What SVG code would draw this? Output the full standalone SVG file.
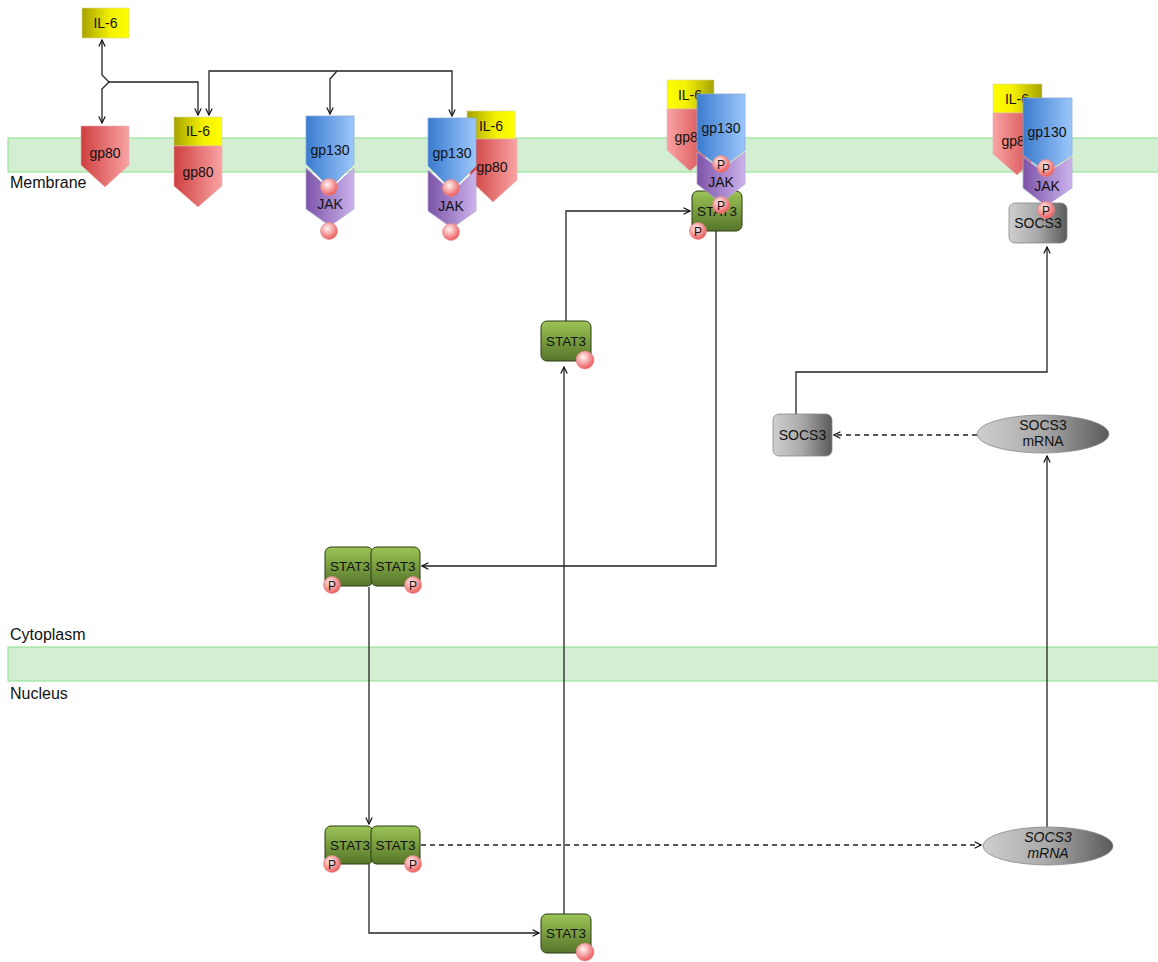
<svg xmlns="http://www.w3.org/2000/svg" width="1158" height="962" viewBox="0 0 1158 962">
<defs>
  <linearGradient id="gYel" x1="0" y1="0" x2="1" y2="0"><stop offset="0" stop-color="#a6a200"/><stop offset="0.6" stop-color="#f4f000"/><stop offset="1" stop-color="#ffff00"/></linearGradient>
  <linearGradient id="gYelR" x1="1" y1="0" x2="0" y2="0"><stop offset="0" stop-color="#a6a200"/><stop offset="0.6" stop-color="#f4f000"/><stop offset="1" stop-color="#ffff00"/></linearGradient>
  <linearGradient id="gRed" x1="0" y1="0" x2="1" y2="0"><stop offset="0" stop-color="#cf3f3f"/><stop offset="1" stop-color="#f9a3a3"/></linearGradient>
  <linearGradient id="gRedR" x1="1" y1="0" x2="0" y2="0"><stop offset="0" stop-color="#cf3f3f"/><stop offset="1" stop-color="#f9a3a3"/></linearGradient>
  <linearGradient id="gBlue" x1="0" y1="0" x2="1" y2="0"><stop offset="0" stop-color="#3a7bcf"/><stop offset="1" stop-color="#9cc7fb"/></linearGradient>
  <linearGradient id="gPur" x1="0" y1="0" x2="1" y2="0"><stop offset="0" stop-color="#7c53a8"/><stop offset="1" stop-color="#cbb3ec"/></linearGradient>
  <linearGradient id="gGreen" x1="0" y1="0" x2="0" y2="1"><stop offset="0" stop-color="#9cc456"/><stop offset="1" stop-color="#56752a"/></linearGradient>
  <linearGradient id="gGray" x1="0" y1="0" x2="1" y2="0"><stop offset="0" stop-color="#cfcfcf"/><stop offset="0.5" stop-color="#a8a8a8"/><stop offset="1" stop-color="#5a5a5a"/></linearGradient>
  <radialGradient id="gP" cx="0.4" cy="0.35" r="0.65"><stop offset="0" stop-color="#fff4f4"/><stop offset="1" stop-color="#ee5a5a"/></radialGradient>
  <marker id="arr" viewBox="0 0 10 10" refX="9" refY="5" markerWidth="8" markerHeight="8" orient="auto" markerUnits="userSpaceOnUse">
    <path d="M1,1 L9,5 L1,9" fill="none" stroke="#111" stroke-width="1.5"/>
  </marker>
  <marker id="arrS" viewBox="0 0 10 10" refX="9" refY="5" markerWidth="8" markerHeight="8" orient="auto-start-reverse" markerUnits="userSpaceOnUse">
    <path d="M1,1 L9,5 L1,9" fill="none" stroke="#111" stroke-width="1.5"/>
  </marker>
</defs>
<style>
  text { font-family: "Liberation Sans", Arial, sans-serif; fill: #111; }
  .lbl { font-size: 14px; text-anchor: middle; }
  .st { font-size: 13.5px; text-anchor: middle; }
  .comp { font-size: 16px; }
  .band { fill: #d3eed3; stroke: #86e286; stroke-width: 1; }
  .il6 { stroke: #d8d8a0; stroke-width: 0.6; }
  .gp80 { stroke: #e8b0b0; stroke-width: 0.6; }
  .gp130 { fill: url(#gBlue); stroke: #8aa8d8; stroke-width: 0.8; }
  .jak { fill: url(#gPur); stroke: #b8a8d0; stroke-width: 0.8; }
  .stat { fill: url(#gGreen); stroke: #2b3a12; stroke-width: 1; }
  .socs { fill: url(#gGray); stroke: #888; stroke-width: 0.8; }
  .mrna { fill: url(#gGray); stroke: #888; stroke-width: 0.8; }
  .p { fill: url(#gP); stroke: #d88; stroke-width: 0.6; }
  .pt { font-size: 12px; text-anchor: middle; }
  .c { fill: none; stroke: #222; stroke-width: 1.3; }
  .d { fill: none; stroke: #222; stroke-width: 1.3; stroke-dasharray: 5,4; }
</style>

<g id="compartments">
  <rect class="band" x="8" y="138" width="1152" height="34"/>
  <rect class="band" x="8" y="647" width="1152" height="34"/>
  <text class="comp" x="10" y="188">Membrane</text>
  <text class="comp" x="10" y="640">Cytoplasm</text>
  <text class="comp" x="10" y="699">Nucleus</text>
</g>

<g id="connectors">
  <path class="c" d="M102,40 V75 L109,82 L102,89 V123" marker-start="url(#arrS)" marker-end="url(#arrS)"/>
  <path class="c" d="M109,82 H198 V115" marker-end="url(#arr)"/>
  <path class="c" d="M337,71 H209 V115" marker-end="url(#arr)"/>
  <path class="c" d="M337,71 H452 V116" marker-end="url(#arr)"/>
  <path class="c" d="M337,71 L330,79 V114" marker-end="url(#arr)"/>
  <path class="c" d="M566,321 V211 H690" marker-end="url(#arr)"/>
  <path class="c" d="M564,914 V367" marker-end="url(#arr)"/>
  <path class="c" d="M716,231 V566 H422" marker-end="url(#arr)"/>
  <path class="c" d="M369,587 V824" marker-end="url(#arr)"/>
  <path class="c" d="M369,864 V933 H539" marker-end="url(#arr)"/>
  <path class="d" d="M421,845 H981" marker-end="url(#arr)"/>
  <path class="c" d="M1047,827 V456" marker-end="url(#arr)"/>
  <path class="d" d="M977,435 H834" marker-end="url(#arr)"/>
  <path class="c" d="M796,414 V372 H1047 V247" marker-end="url(#arr)"/>
</g>

<g id="il6-free">
  <rect class="il6" x="82" y="8" width="47" height="30" fill="url(#gYel)"/>
  <text class="lbl" x="105.5" y="28">IL-6</text>
</g>

<g id="gp80-free">
  <path class="gp80" d="M81,126 H129 V165 L105,187 L81,165 Z" fill="url(#gRed)"/>
  <text class="lbl" x="105" y="158">gp80</text>
</g>

<g id="il6-gp80">
  <rect class="il6" x="174" y="117" width="48" height="29" fill="url(#gYel)"/>
  <text class="lbl" x="198" y="136">IL-6</text>
  <path class="gp80" d="M174,146 H222 V186 L198,207 L174,186 Z" fill="url(#gRed)"/>
  <text class="lbl" x="198" y="177">gp80</text>
</g>

<g id="gp130-jak">
  <path class="jak" d="M306,168 L330,190 L354,168 V209 L330,226 L306,209 Z"/>
  <path class="gp130" d="M306,116 H354 V164 L330,188 L306,164 Z"/>
  <text class="lbl" x="330" y="155">gp130</text>
  <text class="lbl" x="330" y="209">JAK</text>
  <circle class="p" cx="329" cy="187" r="8.5"/>
  <circle class="p" cx="329" cy="231" r="8.5"/>
</g>

<g id="complex-1">
  <rect class="il6" x="467" y="111" width="48" height="28" fill="url(#gYel)"/>
  <text class="lbl" x="491" y="131">IL-6</text>
  <path class="gp80" d="M470,139 H517 V180 L493,202 L470,180 Z" fill="url(#gRed)"/>
  <text class="lbl" x="492" y="172">gp80</text>
  <path class="jak" d="M428,170 L452,192 L476,170 V211 L452,228 L428,211 Z"/>
  <path class="gp130" d="M428,118 H476 V166 L452,190 L428,166 Z"/>
  <text class="lbl" x="452" y="158">gp130</text>
  <text class="lbl" x="451" y="211">JAK</text>
  <circle class="p" cx="451" cy="188" r="8.5"/>
  <circle class="p" cx="451" cy="232" r="8.5"/>
</g>

<g id="complex-2">
  <rect class="stat" x="692" y="191" width="50" height="40" rx="6"/>
  <text class="st" x="717" y="216">STAT3</text>
  <rect class="il6" x="667" y="80" width="47" height="29" fill="url(#gYelR)"/>
  <text class="lbl" x="690" y="100">IL-6</text>
  <path class="gp80" d="M667,109 H714 V150 L690,171 L667,150 Z" fill="url(#gRedR)"/>
  <text class="lbl" x="690" y="142">gp80</text>
  <path class="jak" d="M697,152 L721,170 L745,152 V184 L721,203 L697,184 Z"/>
  <path class="gp130" d="M697,94 H745 V150 L721,168 L697,150 Z"/>
  <text class="lbl" x="721" y="133">gp130</text>
  <text class="lbl" x="721" y="187">JAK</text>
  <circle class="p" cx="721" cy="164" r="8.5"/><text class="pt" x="721" y="168.5">P</text>
  <circle class="p" cx="721" cy="205" r="8.5"/><text class="pt" x="721" y="209.5">P</text>
  <circle class="p" cx="698" cy="231" r="8.5"/><text class="pt" x="698" y="235.5">P</text>
</g>

<g id="complex-3">
  <rect class="socs" x="1009" y="203" width="58" height="40" rx="6"/>
  <text class="lbl" x="1038" y="228">SOCS3</text>
  <rect class="il6" x="993" y="84" width="49" height="29" fill="url(#gYelR)"/>
  <text class="lbl" x="1017" y="104">IL-6</text>
  <path class="gp80" d="M993,113 H1040 V154 L1017,175 L993,154 Z" fill="url(#gRedR)"/>
  <text class="lbl" x="1017" y="146">gp80</text>
  <path class="jak" d="M1023,157 L1046,174 L1072,157 V188 L1046,206 L1023,188 Z"/>
  <path class="gp130" d="M1023,98 H1072 V155 L1046,172 L1023,155 Z"/>
  <text class="lbl" x="1047" y="137">gp130</text>
  <text class="lbl" x="1047" y="191">JAK</text>
  <circle class="p" cx="1046" cy="168" r="8.5"/><text class="pt" x="1046" y="172.5">P</text>
  <circle class="p" cx="1046" cy="210" r="8.5"/><text class="pt" x="1046" y="214.5">P</text>
</g>

<g id="stat3-cyto">
  <rect class="stat" x="541" y="321" width="50" height="40" rx="6"/>
  <text class="st" x="566" y="346">STAT3</text>
  <circle class="p" cx="585" cy="360" r="9"/>
</g>

<g id="stat3-dimer-cyto">
  <rect class="stat" x="325" y="547" width="48" height="39" rx="6"/>
  <rect class="stat" x="371" y="547" width="49" height="39" rx="6"/>
  <text class="st" x="350" y="571">STAT3</text>
  <text class="st" x="395.5" y="571">STAT3</text>
  <circle class="p" cx="332" cy="585" r="8.5"/><text class="pt" x="332" y="589.5">P</text>
  <circle class="p" cx="413" cy="585" r="8.5"/><text class="pt" x="413" y="589.5">P</text>
</g>

<g id="stat3-dimer-nuc">
  <rect class="stat" x="325" y="826" width="48" height="38" rx="6"/>
  <rect class="stat" x="371" y="826" width="49" height="38" rx="6"/>
  <text class="st" x="350" y="850">STAT3</text>
  <text class="st" x="395.5" y="850">STAT3</text>
  <circle class="p" cx="332" cy="864" r="8.5"/><text class="pt" x="332" y="868.5">P</text>
  <circle class="p" cx="413" cy="864" r="8.5"/><text class="pt" x="413" y="868.5">P</text>
</g>

<g id="stat3-nuc">
  <rect class="stat" x="541" y="914" width="50" height="39" rx="6"/>
  <text class="st" x="566" y="938">STAT3</text>
  <circle class="p" cx="585" cy="952" r="9"/>
</g>

<g id="socs3-cyto">
  <rect class="socs" x="773" y="414" width="59" height="42" rx="6"/>
  <text class="lbl" x="802.5" y="440">SOCS3</text>
</g>

<g id="socs3-mrna-cyto">
  <ellipse class="mrna" cx="1043" cy="434" rx="66" ry="19"/>
  <text class="lbl" x="1043" y="430">SOCS3</text>
  <text class="lbl" x="1043" y="446">mRNA</text>
</g>

<g id="socs3-mrna-nuc">
  <ellipse class="mrna" cx="1048" cy="846" rx="65" ry="19"/>
  <text class="lbl" x="1048" y="842" font-style="italic">SOCS3</text>
  <text class="lbl" x="1048" y="858" font-style="italic">mRNA</text>
</g>
</svg>
